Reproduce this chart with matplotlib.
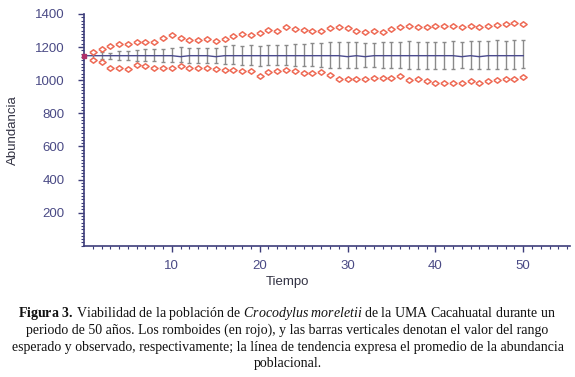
import matplotlib
matplotlib.use("Agg")
import matplotlib.pyplot as plt
import numpy as np

# ---- data ----
years = list(range(1, 51))
expected_upper = [1173, 1187, 1208, 1218, 1218, 1232, 1232, 1232, 1252, 1272,
                  1252, 1244, 1244, 1248, 1238, 1248, 1268, 1277, 1270, 1285,
                  1303, 1295, 1319, 1309, 1305, 1299, 1297, 1313, 1319, 1318,
                  1295, 1293, 1298, 1294, 1307, 1322, 1329, 1319, 1319, 1325,
                  1325, 1325, 1319, 1329, 1319, 1329, 1333, 1339, 1345, 1339]
expected_lower = [1121, 1108, 1076, 1073, 1070, 1090, 1088, 1076, 1076, 1076,
                  1086, 1076, 1072, 1076, 1066, 1064, 1060, 1058, 1058, 1026,
                  1050, 1056, 1062, 1056, 1044, 1046, 1050, 1033, 1010, 1010,
                  1010, 1010, 1012, 1016, 1016, 1026, 1003, 1005, 995, 985,
                  985, 981, 985, 995, 985, 995, 999, 1005, 1010, 1020]
observed_top = [1167, 1171, 1167, 1177, 1177, 1184, 1188, 1188, 1188, 1192,
                1198, 1192, 1196, 1194, 1196, 1208, 1212, 1208, 1212, 1208,
                1214, 1214, 1214, 1218, 1218, 1222, 1222, 1228, 1228, 1228,
                1228, 1222, 1222, 1232, 1232, 1232, 1238, 1232, 1232, 1232,
                1232, 1238, 1232, 1238, 1236, 1238, 1242, 1238, 1242, 1244]
observed_bottom = [1127, 1127, 1127, 1123, 1121, 1117, 1115, 1113, 1111, 1107,
                   1107, 1103, 1103, 1103, 1101, 1097, 1095, 1091, 1091, 1086,
                   1093, 1093, 1093, 1086, 1086, 1086, 1082, 1076, 1076, 1076,
                   1076, 1082, 1082, 1076, 1076, 1074, 1070, 1070, 1070, 1070,
                   1070, 1070, 1074, 1066, 1070, 1066, 1066, 1070, 1066, 1076]
mean_years = list(range(0, 51))
mean_abundance = [1148, 1148, 1148, 1148, 1148, 1148, 1148, 1148, 1148, 1148,
                  1148, 1142, 1148, 1148, 1148, 1142, 1148, 1148, 1148, 1148,
                  1148, 1148, 1148, 1148, 1148, 1148, 1148, 1148, 1148, 1148,
                  1142, 1148, 1142, 1148, 1148, 1148, 1148, 1148, 1148, 1148,
                  1148, 1148, 1148, 1142, 1148, 1142, 1148, 1148, 1148, 1148,
                  1148]
x_ticks = [10, 20, 30, 40, 50]
y_ticks = [200, 400, 600, 800, 1000, 1200, 1400]

axis_col = "#3d3d7a"
label_col = "#4a4a85"
sans = ["Liberation Sans", "DejaVu Sans"]

plt.rcParams["mathtext.fontset"] = "custom"
plt.rcParams["mathtext.rm"] = "Liberation Serif"
plt.rcParams["mathtext.it"] = "Liberation Serif:italic"
plt.rcParams["mathtext.bf"] = "Liberation Serif:bold"

fig = plt.figure(figsize=(5.75, 3.77), dpi=100)
ax = fig.add_axes([0.146, 0.348, 0.845, 0.615])

# observed range (vertical gray bars)
yr = np.array(years)
top = np.array(observed_top)
bot = np.array(observed_bottom)
mid = (top + bot) / 2.0
ax.errorbar(yr, mid, yerr=[mid - bot, top - mid], fmt="none",
            ecolor="#8a8a8a", elinewidth=1.0, capsize=1.6, capthick=1.0, zorder=2)

# mean trend line
ax.plot(mean_years, mean_abundance, color="#4b4b8e", lw=1.0, zorder=3)
ax.plot([mean_years[0]], [mean_abundance[0]], marker="s", ms=2.5,
        color="#b0306a", zorder=4, clip_on=False)

# expected range (red diamonds, slightly wider than tall)
diamond = [(-1, 0), (0, 0.75), (1, 0), (0, -0.75), (-1, 0)]
for series in (expected_upper, expected_lower):
    ax.plot(years, series, linestyle="none", marker=diamond, ms=5.2,
            mfc="white", mec="#ee6a55", mew=1.1, zorder=5)

ax.set_xlim(0, 55.3)
ax.set_ylim(0, 1400)
ax.set_xticks(x_ticks)
ax.set_xticks(np.arange(1, 56, 1), minor=True)
ax.set_yticks(y_ticks)
ax.set_yticks(np.arange(0, 1401, 20), minor=True)

for s in ("top", "right"):
    ax.spines[s].set_visible(False)
for s in ("left", "bottom"):
    ax.spines[s].set_color(axis_col)
    ax.spines[s].set_linewidth(1.2)

ax.tick_params(which="major", direction="out", length=4, width=1.0,
               color=axis_col, labelcolor=label_col, labelsize=9.5)
ax.tick_params(axis="y", which="major", pad=10)
ax.tick_params(axis="x", which="major", pad=6)
ax.tick_params(which="minor", direction="out", length=2.5, width=0.8,
               color=axis_col)
for lab in ax.get_xticklabels() + ax.get_yticklabels():
    lab.set_family(sans)

ax.set_xlabel("Tiempo", fontsize=9.5, color="#333344", family=sans)
ax.set_ylabel("Abundancia", fontsize=9.5, color="#333344", family=sans)
ax.xaxis.set_label_coords(0.418, -0.13)
ax.yaxis.set_label_coords(-0.134, 0.5)

# caption
cap_lines = [
    r"$\mathbf{Figura\ 3.}\;$Viabilidad de la población de $\mathit{Crocodylus\ moreletii}$ de la UMA Cacahuatal durante un",
    "periodo de 50 años. Los romboides (en rojo), y las barras verticales denotan el valor del rango",
    "esperado y observado, respectivamente; la línea de tendencia expresa el promedio de la abundancia",
    "poblacional.",
]
baselines = [317, 334, 351, 367]
for line, b in zip(cap_lines, baselines):
    fig.text(0.5, 1 - b / 377.0, line, ha="center", va="baseline",
             fontsize=10, family=["Liberation Serif", "DejaVu Serif"],
             color="#111111")

fig.savefig("out.png", dpi=100)
